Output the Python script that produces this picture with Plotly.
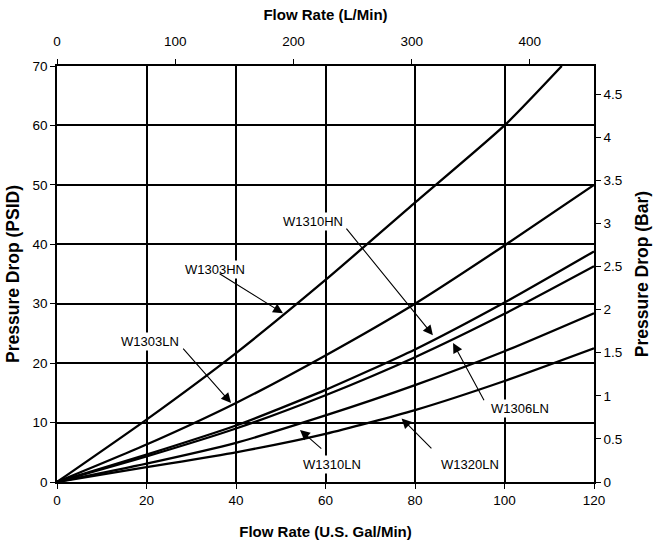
import plotly.graph_objects as go

# ---- data ----
gpm = [0, 20, 40, 60, 80, 100, 120]
gpm_w1303hn = [0, 20, 40, 60, 80, 100, 112.8]
psi_w1303hn = [0, 10.5, 21.7, 34.0, 47.0, 60.0, 70.0]
psi_w1303ln = [0, 6.3, 13.3, 21.3, 30.0, 39.8, 50.0]
psi_w1310hn = [0, 4.6, 9.5, 15.5, 22.3, 30.2, 38.8]
psi_w1306ln = [0, 4.3, 9.0, 14.6, 21.0, 28.3, 36.3]
psi_w1310ln = [0, 3.1, 6.6, 11.2, 16.3, 22.0, 28.4]
psi_w1320ln = [0, 2.5, 5.0, 8.1, 12.1, 17.0, 22.5]

series_names = ["W1303HN", "W1303LN", "W1310HN", "W1306LN", "W1310LN", "W1320LN"]

gpm_ticks = [0, 20, 40, 60, 80, 100, 120]
psi_ticks = [0, 10, 20, 30, 40, 50, 60, 70]
lpm_ticks = [0, 100, 200, 300, 400]
bar_ticks = [0, 0.5, 1, 1.5, 2, 2.5, 3, 3.5, 4, 4.5]

GPM_TO_LPM = 3.78541
PSI_TO_BAR = 1 / 14.5038
X_MAX = 120
Y_MAX = 70

# label positions (text centre) and arrows (tail -> tip) in data units
labels = {
    "W1303HN": dict(tx=35.3, ty=35.8, ax=36.0, ay=35.2, x=50.5, y=28.4),
    "W1310HN": dict(tx=57.2, ty=43.9, ax=64.4, ay=42.9, x=84.0, y=24.7),
    "W1303LN": dict(tx=20.8, ty=23.6, ax=27.9, ay=22.7, x=38.9, y=13.3),
    "W1306LN": dict(tx=103.5, ty=12.3, ax=95.6, ay=13.5, x=88.5, y=23.4),
    "W1310LN": dict(tx=61.5, ty=2.9, ax=59.4, ay=5.4, x=54.3, y=8.75),
    "W1320LN": dict(tx=92.3, ty=2.9, ax=84.0, ay=5.4, x=77.0, y=10.7),
}

FONT = "Liberation Sans, Arial, sans-serif"

fig = go.Figure()
curves = [
    (gpm_w1303hn, psi_w1303hn),
    (gpm, psi_w1303ln),
    (gpm, psi_w1310hn),
    (gpm, psi_w1306ln),
    (gpm, psi_w1310ln),
    (gpm, psi_w1320ln),
]
for name, (xs, ys) in zip(series_names, curves):
    fig.add_trace(go.Scatter(x=xs, y=ys, mode="lines", name=name,
                             line=dict(color="black", width=2.3, shape="spline", smoothing=0.6),
                             showlegend=False, hoverinfo="skip"))

# invisible traces to carry the secondary axes
fig.add_trace(go.Scatter(x=[0, X_MAX * GPM_TO_LPM], y=[0, 0], xaxis="x2", yaxis="y",
                         mode="markers", marker=dict(opacity=0), showlegend=False, hoverinfo="skip"))
fig.add_trace(go.Scatter(x=[0, 0], y=[0, Y_MAX * PSI_TO_BAR], xaxis="x", yaxis="y2",
                         mode="markers", marker=dict(opacity=0), showlegend=False, hoverinfo="skip"))

for name, p in labels.items():
    fig.add_annotation(x=p["tx"], y=p["ty"], xref="x", yref="y", text=name, showarrow=False,
                       bgcolor="white", borderpad=1,
                       font=dict(family=FONT, size=13, color="black"))
    fig.add_annotation(x=p["x"], y=p["y"], ax=p["ax"], ay=p["ay"], xref="x", yref="y",
                       axref="x", ayref="y", text="", showarrow=True, arrowhead=2,
                       arrowsize=1.8, arrowwidth=1.1, arrowcolor="black")

axis_common = dict(showline=True, linecolor="black", linewidth=1.5, ticks="outside",
                   ticklen=5, tickwidth=1.2, tickcolor="black",
                   tickfont=dict(family=FONT, size=13.5, color="black"), zeroline=False)

fig.update_layout(
    width=658, height=546,
    margin=dict(l=57, r=64, t=66, b=64, autoexpand=False),
    paper_bgcolor="white", plot_bgcolor="white",
    xaxis=dict(range=[0, X_MAX], tickvals=gpm_ticks, showgrid=True, gridcolor="black",
               gridwidth=2,
               title=dict(text="<b>Flow Rate (U.S. Gal/Min)</b>", standoff=20,
                          font=dict(family=FONT, size=15, color="black")),
               **axis_common),
    yaxis=dict(range=[0, Y_MAX], tickvals=psi_ticks, showgrid=True, gridcolor="black",
               gridwidth=2,
               title=dict(text="<b>Pressure Drop (PSID)</b>", standoff=8,
                          font=dict(family=FONT, size=17.5, color="black")),
               **axis_common),
    xaxis2=dict(range=[0, X_MAX * GPM_TO_LPM], tickvals=lpm_ticks, overlaying="x",
                side="top", showgrid=False, anchor="y", ticklabelstandoff=8,
                title=dict(text="<b>Flow Rate (L/Min)</b>", standoff=10,
                           font=dict(family=FONT, size=15, color="black")),
                **axis_common),
    yaxis2=dict(range=[0, Y_MAX * PSI_TO_BAR], tickvals=bar_ticks, overlaying="y",
                side="right", showgrid=False, anchor="x",
                title=dict(text="<b>Pressure Drop (Bar)</b>", standoff=15,
                           font=dict(family=FONT, size=17.5, color="black")),
                **axis_common),
)

fig.write_html("out.html", config={"displayModeBar": False},
               post_script="document.body.style.margin='0';")
